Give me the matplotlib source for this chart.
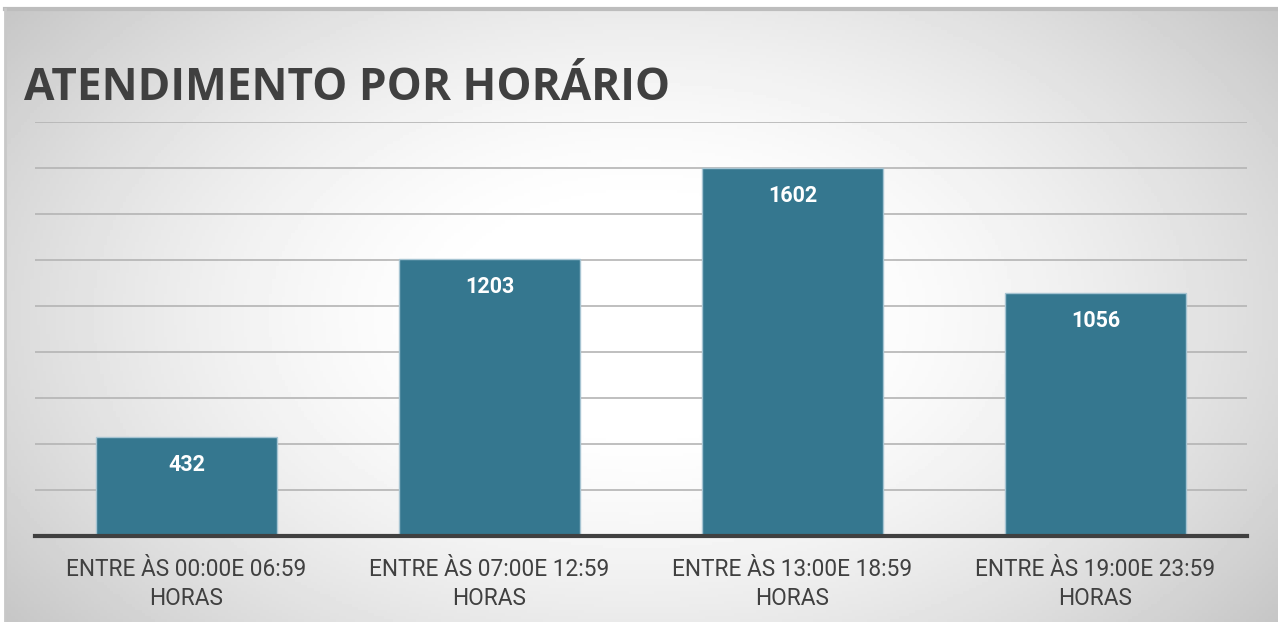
import matplotlib
matplotlib.use("Agg")
from matplotlib import pyplot as plt
import numpy as np

categories = ["ENTRE ÀS 00:00E 06:59\nHORAS", "ENTRE ÀS 07:00E 12:59\nHORAS",
              "ENTRE ÀS 13:00E 18:59\nHORAS", "ENTRE ÀS 19:00E 23:59\nHORAS"]
atendimentos = [432, 1203, 1602, 1056]
y_ticks = [0, 200, 400, 600, 800, 1000, 1200, 1400, 1600, 1800]

W, H = 1278, 622
fig = plt.figure(figsize=(W / 100, H / 100), dpi=100)
fig.patch.set_facecolor("white")

# fundo com degradê radial (branco no centro, cinza nas bordas)
bg = fig.add_axes([5 / W, 0, (W - 5) / W, (H - 9) / H])
gx, gy = np.meshgrid(np.linspace(-1, 1, 400), np.linspace(-1, 1, 200))
r = np.sqrt((gx / 1.0) ** 2 + (gy / 1.3) ** 2)
shade = 1 - 0.22 * np.clip(r - 0.25, 0, None) ** 1.5
bg.imshow(shade, cmap="gray", vmin=0, vmax=1, aspect="auto", extent=[0, 1, 0, 1])
bg.set_xlim(0, 1)
bg.set_ylim(0, 1)
bg.axis("off")
bg.plot([0, 1], [1, 1], color="#bdbdbd", lw=3, transform=bg.transAxes, clip_on=False)
bg.plot([0, 0], [0, 1], color="#c8c8c8", lw=2, transform=bg.transAxes, clip_on=False)

ax = fig.add_axes([35 / W, 1 - 536 / H, 1212 / W, (536 - 122) / H])
ax.set_facecolor("none")
x = np.arange(len(categories))
bars = ax.bar(x, atendimentos, width=0.6, color="#35778f", edgecolor="#a6c4d2",
              linewidth=1, zorder=3)

for b, v in zip(bars, atendimentos):
    ax.text(b.get_x() + b.get_width() / 2, v - 122, str(v), ha="center", va="center",
            color="white", fontsize=15.5, fontweight="bold", family="Roboto", zorder=4)

ax.set_xlim(-0.5, len(categories) - 0.5)
ax.set_ylim(0, 1800)
ax.set_yticks(y_ticks)
ax.yaxis.grid(True, color="#b4b4b4", lw=1.2, zorder=0)
ax.tick_params(axis="y", left=False, labelleft=False)
ax.tick_params(axis="x", bottom=False, pad=12)
ax.set_xticks(x)
ax.set_xticklabels(categories, fontsize=16.3, color="#404040", family="Roboto",
                   linespacing=1.35)
for s in ["top", "right", "left"]:
    ax.spines[s].set_visible(False)
ax.spines["bottom"].set_color("#404040")
ax.spines["bottom"].set_linewidth(3)
ax.spines["bottom"].set_zorder(5)

fig.text(24 / W, 1 - 88 / H, "ATENDIMENTO POR HORÁRIO", fontsize=31.8, fontweight="bold",
         color="#404040", family="Open Sans", va="center", ha="left")

fig.savefig("out.png", dpi=100)
